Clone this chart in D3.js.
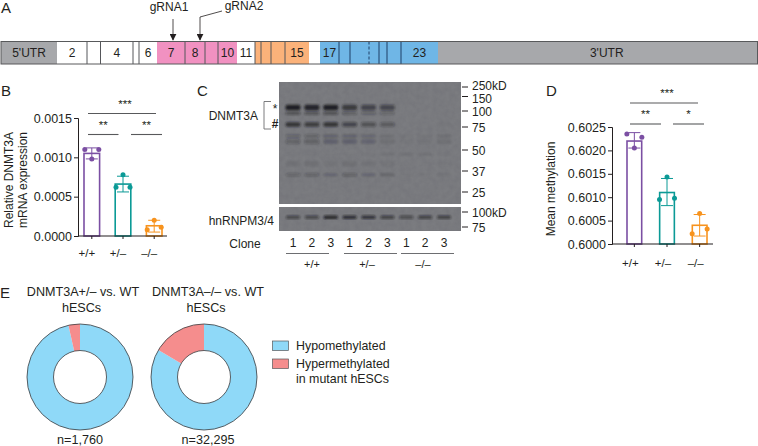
<!DOCTYPE html>
<html><head><meta charset="utf-8">
<script src="https://cdn.jsdelivr.net/npm/d3@7"></script>
<style>html,body{margin:0;padding:0;background:#fff}svg{display:block}text{font-family:"Liberation Sans",Arial,sans-serif;fill:#231f20}</style>
</head><body><svg id="c" width="758" height="446"></svg>
<script>
// Panel A: gene model
const exonLabels = ["5'UTR","2","","4","","6","7","8","","10","11","","","","15","","17","","","","","","23","3'UTR"];
const exonLengths = [56,30,13.5,32.5,6,18,28,20,13,19,18,6,10,14,24,11,19,11,19,10,8,14,37,319.5];
const exonGroups = ["u","w","w","w","w","w","p","p","p","p","w","o","o","o","o","w","b","b","b","b","b","b","b","u"];
const groupColors = {u:"#a7a8ab",w:"#ffffff",p:"#f191c1",o:"#fbb27a",b:"#6fb6e6"};
// Panels B and D
const genotypes = ["+/+","+/–","–/–"];
const barColors = ["#7b4fa3","#0b9a96","#f7931e"];
const bMeans = [0.00105,0.00066,0.00013];
const bPoints = [[0.00110,0.00098,0.00110],[0.00062,0.00078,0.00062],[0.00008,0.00020,0.00011]];
const bErrors = [[0.00098,0.00112],[0.00056,0.00076],[0.00005,0.00020]];
const bTicks = [0,0.0005,0.001,0.0015];
const dMeans = [0.6022,0.6011,0.6004];
const dPoints = [[0.60235,0.60205,0.60228],[0.60095,0.60143,0.60098],[0.60022,0.60065,0.60032]];
const dErrors = [[0.60205,0.60238],[0.60082,0.6014],[0.60017,0.60063]];
const dTicks = [0.6,0.6005,0.601,0.6015,0.602,0.6025];
// Panel C: western blot
const mwLabels = [250,150,100,75,50,37,25];
const mwLower = [100,75];
const clones = [1,2,3,1,2,3,1,2,3];
const band1 = [1,.95,1,.72,.58,.55,0,0,0];
const band2 = [.8,.72,.8,.58,.45,.36,0,0,.03];
const band3 = [.26,.28,.22,.22,.18,.1,.04,.05,.09];
const band4 = [.24,.25,.18,.28,.18,.16,.03,.03,.05];
const band5 = [.02,.02,.02,.02,.03,.07,.08,.08,.03];
const loading = [.55,.55,.9,.8,.75,.6,.5,.6,.6];
// Panel E
const donutTitles = ["DNMT3A+/– vs. WT","DNMT3A–/– vs. WT"];
const donutCounts = ["n=1,760","n=32,295"];
const hyperShare = [0.035,0.165];
const donutColors = ["#8fd9f8","#f58d8d"];
const legendLabels = [["Hypomethylated"],["Hypermethylated","in mutant hESCs"]];

const svg = d3.select("#c");
const defs = svg.append("defs");
const txt = (s,x,y,size,anchor="middle",g=svg)=>g.append("text").attr("x",x).attr("y",y).attr("font-size",size).attr("text-anchor",anchor).text(s);
const line = (x1,y1,x2,y2,c="#231f20",w=1,g=svg)=>g.append("line").attr("x1",x1).attr("y1",y1).attr("x2",x2).attr("y2",y2).attr("stroke",c).attr("stroke-width",w);

// panel letters
[["A",1,13],["B",1,96],["C",197,96],["D",546,96],["E",0,298]].forEach(d=>txt(d[0],d[1],d[2],15,"start"));

// ---- A
const total = d3.sum(exonLengths);
const ax = d3.scaleLinear().domain([0,total]).range([1,757.5]);
const cum = d3.cumsum(exonLengths);
const aTop=41.5,aH=22.5;
const aG = svg.append("g");
aG.selectAll("rect").data(exonLengths).join("rect")
 .attr("x",(d,i)=>ax(cum[i]-d)).attr("y",aTop).attr("width",d=>ax(d)-ax(0)+.3).attr("height",aH)
 .attr("fill",(d,i)=>groupColors[exonGroups[i]]);
exonLengths.forEach((d,i)=>{
  if(i===0||i>=exonLengths.length-2) return;
  const e=ax(cum[i]);
  const nextG=exonGroups[i+1],g=exonGroups[i];
  if(i===18){ line(e,aTop,e,aTop+aH,"#1f3f66",1,aG).attr("stroke-dasharray","3 2"); return; }
  if(g===nextG || (g==="w"&&nextG==="o")) line(e,aTop,e,aTop+aH,g==="b"?"#1f3f66":"#55565a",1,aG);
});
aG.append("rect").attr("x",1).attr("y",aTop).attr("width",756.5).attr("height",aH).attr("fill","none").attr("stroke","#58595b").attr("stroke-width",1);
exonLabels.forEach((l,i)=>{ if(l) txt(l,ax(cum[i]-exonLengths[i]/2)+(i===exonLabels.length-1?9:0),aTop+15.5,12,"middle",aG);});
txt("gRNA1",169,11,12); txt("gRNA2",244,10,12);
defs.append("marker").attr("id","arr").attr("viewBox","0 0 10 10").attr("refX",9).attr("refY",5).attr("markerWidth",7).attr("markerHeight",7).attr("markerUnits","userSpaceOnUse").attr("orient","auto").append("path").attr("d","M0,0L10,5L0,10z").attr("fill","#231f20");
line(173,19,173,40,"#231f20",.8).attr("marker-end","url(#arr)");
svg.append("path").attr("d","M222,11L200,17L200,40").attr("fill","none").attr("stroke","#231f20").attr("stroke-width",.8).attr("marker-end","url(#arr)");

// ---- bar panels
function barPanel(o){
  const g=svg.append("g");
  const y=d3.scaleLinear().domain(o.domain).range([o.y0,o.y1]);
  const x=d3.scaleBand().domain(genotypes).range([o.xL,o.xR]).paddingInner(o.pad).paddingOuter(0);
  const w=x.bandwidth();
  g.selectAll("rect").data(o.means).join("rect")
   .attr("x",(d,i)=>x(genotypes[i])).attr("y",d=>y(d)).attr("width",w).attr("height",d=>o.y0-y(d))
   .attr("fill","#fff").attr("stroke",(d,i)=>barColors[i]).attr("stroke-width",1.6);
  o.errors.forEach((e,i)=>{
    const c=x(genotypes[i])+w/2;
    line(c,y(e[0]),c,y(e[1]),barColors[i],1,g);
    line(c-6,y(e[0]),c+6,y(e[0]),barColors[i],1,g);
    line(c-6,y(e[1]),c+6,y(e[1]),barColors[i],1,g);
    o.points[i].forEach((p,j)=>g.append("circle").attr("cx",c+(j-1)*o.spread).attr("cy",y(p)).attr("r",2.5).attr("fill",barColors[i]));
  });
  const axis=d3.axisLeft(y).tickValues(o.ticks).tickFormat(d3.format(".4f")).tickSize(4);
  const ag=g.append("g").attr("transform",`translate(${o.axisX},0)`).call(axis);
  ag.selectAll("text").attr("font-size",12.5).attr("dx",1);
  ag.selectAll("path,line").attr("stroke","#231f20").attr("stroke-width",1);
  line(o.axisX,o.y0,o.xEnd,o.y0,"#231f20",1.2,g);
  genotypes.forEach((t,i)=>{
    const c=x(t)+w/2;
    line(c,o.y0,c,o.y0+3,"#231f20",1,g);
    txt(t,c-o.labelShift,o.y0+o.labelGap,11.5,"middle",g);
  });
  o.sig.forEach(s=>{
    line(s[0],s[2],s[1],s[2],"#58595b",1.1,g);
    txt(s[3],(s[0]+s[1])/2+s[4],s[2]-6,11.5,"middle",g);
  });
}
barPanel({domain:[0,0.0015],y0:236,y1:118,xL:84,xR:162,pad:.5,axisX:78,xEnd:167,means:bMeans,errors:bErrors,points:bPoints,ticks:bTicks,spread:7,labelShift:5,labelGap:21,
  sig:[[88,156,113.5,"***",3],[88,118.5,134.5,"**",0],[131,162,134.5,"**",0]]});
barPanel({domain:[0.6,0.6025],y0:244,y1:127,xL:627,xR:707,pad:.55,axisX:612,xEnd:713,means:dMeans,errors:dErrors,points:dPoints,ticks:dTicks,spread:7.5,labelShift:4,labelGap:23,
  sig:[[630,698,103,"***",3],[630,661,124,"**",0],[673,704,124,"*",0]]});
txt("Relative DNMT3A",0,0,12).attr("transform","translate(13,180) rotate(-90)");
txt("mRNA expression",0,0,12).attr("transform","translate(27,180) rotate(-90)");
txt("Mean methylation",0,0,12).attr("transform","translate(555,189) rotate(-90)");

// ---- C blot
const blur=defs.append("filter").attr("id","bl").attr("x","-20%").attr("y","-20%").attr("width","140%").attr("height","140%");
blur.append("feGaussianBlur").attr("stdDeviation","1.3");
const nf=defs.append("filter").attr("id","noise").attr("x","0").attr("y","0").attr("width","100%").attr("height","100%");
nf.append("feTurbulence").attr("type","fractalNoise").attr("baseFrequency","0.18").attr("numOctaves",3).attr("seed",4);
nf.append("feColorMatrix").attr("values","0 0 0 0 0.15  0 0 0 0 0.15  0 0 0 0 0.17  0 0 0 0.9 -0.25");
const mw=d3.scaleLog().domain(mwLabels).range([87,96.5,111,127,150,171,192]);
const mwL=d3.scaleLog().domain(mwLower).range([212,227]);
const lane=d3.scalePoint().domain(d3.range(9)).range([293,444]);
const blotX=279,blotW=182;
[[82,122],[207,24]].forEach(r=>{
  svg.append("rect").attr("x",blotX).attr("y",r[0]).attr("width",blotW).attr("height",r[1]).attr("fill","#7b7c80");
  svg.append("rect").attr("x",blotX).attr("y",r[0]).attr("width",blotW).attr("height",r[1]).attr("filter","url(#noise)").attr("opacity",.7);
});
const bg=svg.append("g").attr("filter","url(#bl)");
const shade=d3.scaleLinear().domain([0,1]).range([0,.92]);
function bands(arr,yPos,h,wd=15){
  arr.forEach((v,i)=>{ if(v<=0) return;
    bg.append("rect").attr("x",lane(i)-wd/2).attr("y",yPos-h/2).attr("width",wd).attr("height",h).attr("rx",2)
      .attr("fill","#1a1a1e").attr("opacity",shade(v));
  });
}
bands(band1,mw(110),5.5);
bands(band1.map(v=>v*.5),mw(96),3);
bands(band2,mw(78.5),4.5);
bands(band3,mw(64),3.5);
bands(band3,mw(58),5);
bands(band4,mw(34.5),3.5);
bands(band4.map(v=>v*.3),mw(41),6);
bands(band5,mw(47),3);
const bg2=svg.append("g").attr("filter","url(#bl)");
loading.forEach((v,i)=>{
  bg2.append("rect").attr("x",lane(i)-7).attr("y",mwL(100)+3.5).attr("width",14).attr("height",3.6).attr("rx",1.5).attr("fill","#141417").attr("opacity",shade(v));
});
const mwNudge = d=>d===250?3:d===150?6:4.5;
mwLabels.forEach((m,i)=>{
  line(462,mw(m),468,mw(m),"#231f20",1);
  txt(m+(i===0?"kD":""),472,mw(m)+mwNudge(m),12,"start");
});
mwLower.forEach((m,i)=>{
  line(462,mwL(m),468,mwL(m),"#231f20",1);
  txt(m+(i===0?"kD":""),472,mwL(m)+4.5,12,"start");
});
txt("DNMT3A",258,120,12,"end");
txt("hnRNPM3/4",274,225,12,"end");
svg.append("path").attr("d","M271,101.5H264V129H271").attr("fill","none").attr("stroke","#6d6e71").attr("stroke-width",.9);
txt("*",275,113,12); txt("#",275,128,12,"middle").attr("font-weight","bold");
txt("Clone",245,248,12);
clones.forEach((c,i)=>txt(c,lane(i),247,12));
const groupCentres=[312,367,423];
[[286,329],[344,397],[401,454]].forEach((r,i)=>{
  line(r[0],253.5,r[1],253.5,"#6d6e71",1);
  txt(genotypes[i],groupCentres[i],268,11);
});

// ---- E donuts
const pie=d3.pie().sort(null).startAngle(0).endAngle(2*Math.PI);
const arc=d3.arc().innerRadius(26.5).outerRadius(53);
[80,204].forEach((cx,i)=>{
  const g=svg.append("g").attr("transform",`translate(${cx},377)`);
  g.selectAll("path").data(pie([1-hyperShare[i],hyperShare[i]])).join("path").attr("d",arc).attr("fill",(d,j)=>donutColors[j]);
  g.append("circle").attr("r",53).attr("fill","none").attr("stroke","#3a3a3c").attr("stroke-width",.8);
  g.append("circle").attr("r",26.5).attr("fill","none").attr("stroke","#3a3a3c").attr("stroke-width",.8);
  txt(donutTitles[i],i?208:83,296,12.6);
  txt("hESCs",i?206:81.5,312,12.6);
  txt(donutCounts[i],i?208:80,444,12.6);
});
const ly=[341,359];
legendLabels.forEach((ls,i)=>{
  svg.append("rect").attr("x",272.5).attr("y",ly[i]).attr("width",16).attr("height",9.5).attr("fill",donutColors[i]).attr("stroke","#58595b").attr("stroke-width",.7);
  ls.forEach((l,j)=>txt(l,296,ly[i]+9+j*14.5,12.4,"start"));
});
</script></body></html>
